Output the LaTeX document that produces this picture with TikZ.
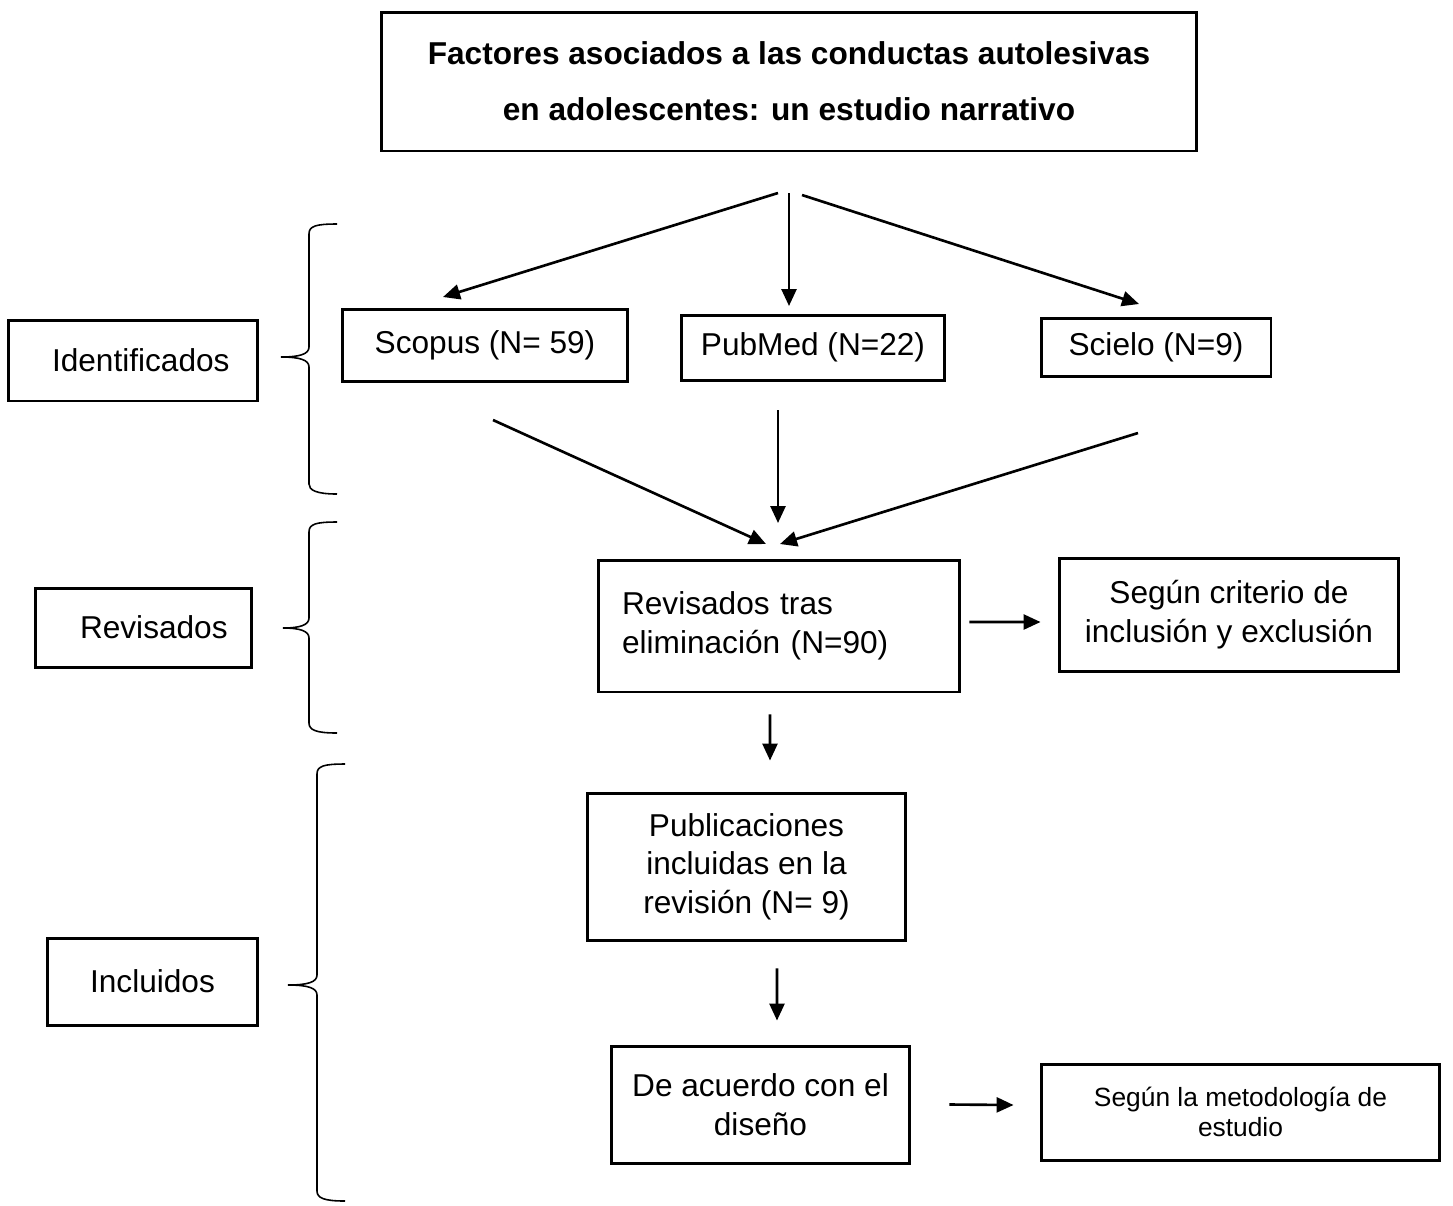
\documentclass[tikz,border=0pt]{standalone}
\usepackage{fontspec}
\setmainfont{Liberation Sans}
\usetikzlibrary{arrows.meta}

\tikzset{
  caja/.style={draw, line width=1.7pt, inner sep=0pt, align=center},
  cajaizq/.style={draw, line width=1.7pt, inner ysep=0pt, align=left},
  flecha/.style={line width=1.5pt, -{Triangle[length=0.34cm,width=0.3cm]}},
  llave/.style={line width=0.9pt}
}

\begin{document}
\begin{tikzpicture}[x=0.02cm, y=-0.02cm, font=\fontsize{18}{22}\selectfont]
\useasboundingbox (0,0) rectangle (1453,1205);

% titulo
\node [caja, minimum width=16.32cm, minimum height=2.78cm,
  font=\fontsize{18}{32}\bfseries\selectfont] (titulo) at (789,81.5)
  {Factores asociados a las conductas autolesivas\\en adolescentes: un estudio narrativo};

% etapas
\node [cajaizq, inner xsep=0.88cm, text width=3.24cm, minimum height=1.62cm] (ident) at (133,360.5) {Identificados};
\node [cajaizq, inner xsep=0.9cm, text width=2.54cm, minimum height=1.58cm] (revis) at (143.5,627.5) {Revisados};
\node [caja, minimum width=4.22cm, minimum height=1.74cm] (incl) at (152.5,981.5) {Incluidos};

% bases de datos
\node [caja, minimum width=5.72cm, minimum height=1.44cm] (scopus) at (485,345) {Scopus (N= 59)};
\node [caja, minimum width=5.28cm, minimum height=1.3cm] (pubmed) at (813,347.5) {PubMed (N=22)};
\node [caja, minimum width=4.6cm, minimum height=1.16cm] (scielo) at (1156,347) {Scielo (N=9)};

\node [cajaizq, inner xsep=0.48cm, text width=6.28cm, minimum height=2.64cm] (revtras) at (779,626)
  {Revisados tras\\eliminación (N=90)};
\node [caja, minimum width=6.8cm, minimum height=2.26cm] (segcrit) at (1229,614.5)
  {Según criterio de\\inclusión y exclusión};
\node [caja, minimum width=6.38cm, minimum height=2.94cm] (public) at (746.5,866.5)
  {Publicaciones\\incluidas en la\\revisión (N= 9)};
\node [caja, minimum width=5.98cm, minimum height=2.34cm] (deacu) at (760.5,1104.5)
  {De acuerdo con el\\diseño};
\node [caja, minimum width=7.98cm, minimum height=1.92cm, font=\fontsize{15}{17}\selectfont] (segmet) at (1240.5,1112)
  {Según la metodología de\\estudio};

% flechas superiores
\coordinate (o1) at (778,193);
\coordinate (o2) at (789,193);
\coordinate (o3) at (802,195);
\coordinate (d1) at (443,297);
\coordinate (d2) at (789,306);
\coordinate (d3) at (1139,304);
\draw [flecha] (o1) -- (d1);
\draw [flecha] (o2) -- (d2);
\draw [flecha] (o3) -- (d3);

\coordinate (b1) at (493,420);
\coordinate (b2) at (778,410);
\coordinate (b3) at (1138,433);
\coordinate (c1) at (766,544);
\coordinate (c2) at (778,523);
\coordinate (c3) at (780,544);
\draw [flecha] (b1) -- (c1);
\draw [flecha] (b2) -- (c2);
\draw [flecha] (b3) -- (c3);

\draw [flecha] ([xshift=0.16cm, yshift=0.08cm]revtras.east) -- ([xshift=-0.34cm, yshift=-0.15cm]segcrit.west);
\draw [flecha] ([xshift=-0.18cm, yshift=-0.42cm]revtras.south) -- ([xshift=0.47cm, yshift=0.62cm]public.north);
\draw [flecha] ([xshift=0.61cm, yshift=-0.54cm]public.south) -- ([xshift=0.33cm, yshift=0.48cm]deacu.north);
\draw [flecha] ([xshift=0.76cm]deacu.east) -- ([xshift=-0.52cm, yshift=0.14cm]segmet.west);

% llaves
\draw [llave] (337,224) .. controls (316,224) and (309,226) .. (309,234) -- (309,347)
  .. controls (309,354) and (300,357) .. (281,357) .. controls (300,357) and (309,360) .. (309,367)
  -- (309,484) .. controls (309,490) and (316,494) .. (337,494);
\draw [llave] (337,522) .. controls (316,522) and (309,524) .. (309,532) -- (309,618)
  .. controls (309,625) and (300,628) .. (283,628) .. controls (300,628) and (309,631) .. (309,638)
  -- (309,723) .. controls (309,730) and (316,733) .. (337,733);
\draw [llave] (345,764) .. controls (324,764) and (317,766) .. (317,774) -- (317,975)
  .. controls (317,982) and (308,985) .. (288,985) .. controls (308,985) and (317,988) .. (317,995)
  -- (317,1191) .. controls (317,1198) and (324,1201) .. (345,1201);
\end{tikzpicture}
\end{document}
